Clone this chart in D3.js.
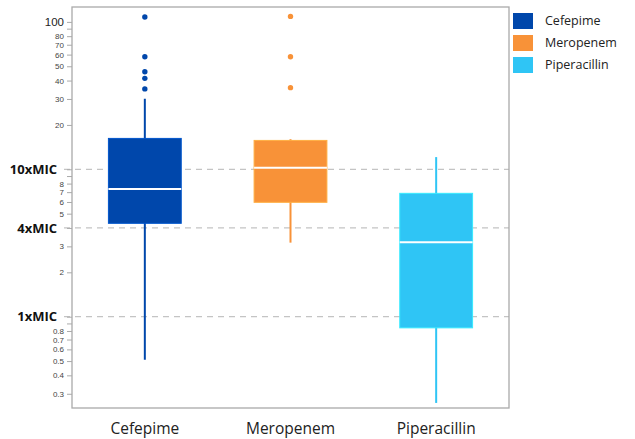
<!DOCTYPE html>
<html>
<head>
<meta charset="utf-8">
<script src="https://cdn.jsdelivr.net/npm/d3@7"></script>
<style>
  html, body { margin: 0; padding: 0; background: #fff; }
  svg { display: block; }
</style>
</head>
<body>
<svg id="chart" width="635" height="439"></svg>
<script>
// ---- data ----
const categories   = ["Cefepime", "Meropenem", "Piperacillin"];
const whiskerLow   = [0.51, 3.18, 0.26];
const q1           = [4.3, 5.97, 0.84];
const median       = [7.35, 10.25, 3.2];
const q3           = [16.2, 15.7, 6.87];
const whiskerHigh  = [30.1, 16.0, 12.1];
const outliers     = [[108, 58, 45.9, 41.4, 35.1], [109, 58, 35.8], []];
const colors       = ["#0047AB", "#F89238", "#2FC5F5"];
const yTicks       = [0.3, 0.4, 0.5, 0.6, 0.7, 0.8, 0.9, 1, 2, 3, 4, 5, 6, 7, 8, 9, 10, 20, 30, 40, 50, 60, 70, 80, 90, 100];
const micLines     = [1, 4, 10];
const micLabels    = {1: "1xMIC", 4: "4xMIC", 10: "10xMIC"};
const hiddenTicks  = [0.9, 9, 90];
const yDomain      = [0.2402, 126.2];

// ---- layout ----
const svg = d3.select("#chart");
const plot = {left: 72, right: 509, top: 7, bottom: 408};

const x = d3.scaleBand().domain(categories).range([plot.left, plot.right]).padding(0);
const y = d3.scaleLog().domain(yDomain).range([plot.bottom, plot.top]);
const boxW = x.bandwidth() * 0.5;
const cx = c => x(c) + x.bandwidth() / 2;

// dashed reference lines
svg.append("g").selectAll("line").data(micLines).join("line")
  .attr("x1", 64).attr("x2", plot.right)
  .attr("y1", d => y(d)).attr("y2", d => y(d))
  .attr("stroke", "#c4c4c4").attr("stroke-width", 1.3)
  .attr("stroke-dasharray", "6,5");

// y axis
const yAxis = d3.axisLeft(y).tickValues(yTicks).tickSize(5).tickPadding(3)
  .tickFormat(d => hiddenTicks.includes(d) ? "" : (micLabels[d] || String(d)));
const gy = svg.append("g").attr("transform", `translate(${plot.left},0)`).call(yAxis);
gy.select(".domain").remove();
gy.selectAll(".tick line").attr("stroke", "#aaa");
gy.selectAll(".tick text")
  .attr("fill", "#444")
  .style("font-family", "Arial, 'Liberation Sans', sans-serif")
  .style("font-size", "8px");
gy.selectAll(".tick").filter(d => d === 100).select("text")
  .attr("fill", "#222").style("font-size", "11.5px");
gy.selectAll(".tick").filter(d => micLabels[d] !== undefined).select("text")
  .attr("fill", "#111")
  .attr("x", -15)
  .style("font-family", "'Open Sans', sans-serif")
  .style("font-weight", "700")
  .style("font-size", "13px");

// x axis labels
const xAxis = d3.axisBottom(x).tickSize(0).tickPadding(15);
const gx = svg.append("g").attr("transform", `translate(0,${plot.bottom})`).call(xAxis);
gx.select(".domain").remove();
gx.selectAll(".tick text")
  .attr("fill", "#222")
  .style("font-family", "'Open Sans', sans-serif")
  .style("font-size", "15.5px");

// boxes
const groups = svg.append("g").selectAll("g").data(categories).join("g");
groups.append("line")
  .attr("x1", c => cx(c)).attr("x2", c => cx(c))
  .attr("y1", (c, i) => y(whiskerLow[i])).attr("y2", (c, i) => y(whiskerHigh[i]))
  .attr("stroke", (c, i) => colors[i]).attr("stroke-width", 2);
groups.append("rect")
  .attr("x", c => cx(c) - boxW / 2).attr("width", boxW)
  .attr("y", (c, i) => y(q3[i])).attr("height", (c, i) => y(q1[i]) - y(q3[i]))
  .attr("fill", (c, i) => colors[i])
  .attr("stroke", (c, i) => d3.color(colors[i]).brighter(0.5))
  .attr("stroke-width", 1);
groups.append("line")
  .attr("x1", c => cx(c) - boxW / 2).attr("x2", c => cx(c) + boxW / 2)
  .attr("y1", (c, i) => y(median[i])).attr("y2", (c, i) => y(median[i]))
  .attr("stroke", "#fff").attr("stroke-width", 2);
groups.each(function(c, i) {
  d3.select(this).selectAll("circle").data(outliers[i]).join("circle")
    .attr("cx", cx(c)).attr("cy", d => y(d)).attr("r", 2.7)
    .attr("fill", colors[i]);
});

// plot frame
svg.append("rect")
  .attr("x", plot.left).attr("y", plot.top)
  .attr("width", plot.right - plot.left).attr("height", plot.bottom - plot.top)
  .attr("fill", "none").attr("stroke", "#aaa").attr("stroke-width", 1.3);

// legend
const lg = svg.append("g").selectAll("g").data(categories).join("g")
  .attr("transform", (c, i) => `translate(513,${13 + i * 22})`);
lg.append("rect").attr("width", 20).attr("height", 16).attr("fill", (c, i) => colors[i]);
lg.append("text").attr("x", 32).attr("y", 8).attr("dy", "0.35em")
  .attr("fill", "#222")
  .style("font-family", "'Open Sans', sans-serif").style("font-size", "12.5px")
  .text(c => c);
</script>
</body>
</html>
